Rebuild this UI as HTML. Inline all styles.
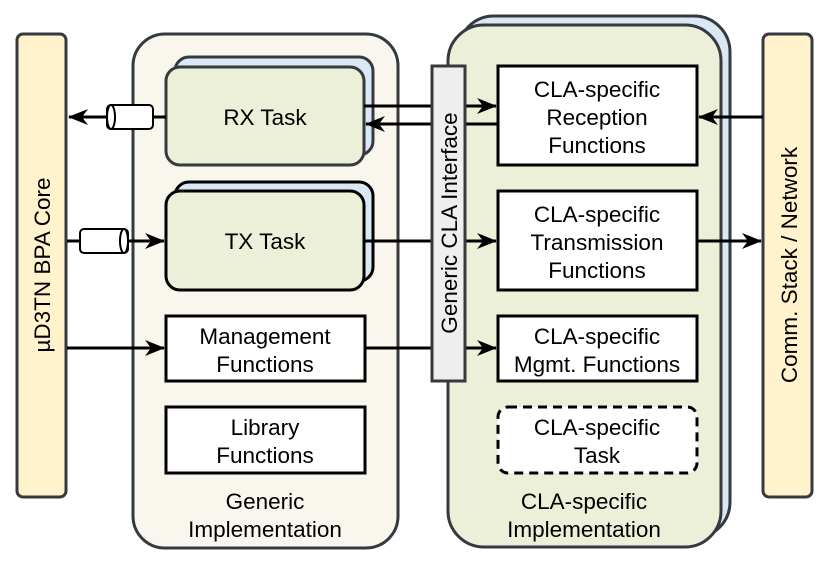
<!DOCTYPE html>
<html><head><meta charset="utf-8"><style>body{margin:0;background:#fff}svg{display:block}text{font-family:"Liberation Sans",sans-serif;font-size:22.5px;fill:#000}</style></head>
<body>
<svg width="830" height="568" viewBox="0 0 830 568" xmlns="http://www.w3.org/2000/svg">
<defs>
<marker id="b" viewBox="0 0 20 16" refX="19" refY="8" markerWidth="22" markerHeight="16" markerUnits="userSpaceOnUse" orient="auto"><path d="M0,0 L20,8 L0,16 L6,8 Z" fill="#000"/></marker></defs>
<rect x="17" y="34" width="49" height="463" rx="6" fill="#fff2cc" stroke="#36393d" stroke-width="3"/>
<text transform="translate(50,265) rotate(-90)" text-anchor="middle">µD3TN BPA Core</text>
<rect x="763" y="34" width="49" height="463" rx="6" fill="#fff2cc" stroke="#36393d" stroke-width="3"/>
<text transform="translate(797,265) rotate(-90)" text-anchor="middle">Comm. Stack / Network</text>
<rect x="133" y="34" width="265" height="514" rx="32" fill="#f9f7ed" stroke="#36393d" stroke-width="3"/>
<text x="265" y="509" text-anchor="middle">Generic</text>
<text x="265" y="537" text-anchor="middle">Implementation</text>
<rect x="458" y="16" width="272" height="522" rx="36" fill="#dae8f5" stroke="#36393d" stroke-width="3"/>
<rect x="448" y="25" width="273" height="522" rx="36" fill="#edf0d8" stroke="#36393d" stroke-width="3"/>
<text x="584" y="509" text-anchor="middle">CLA-specific</text>
<text x="584" y="537" text-anchor="middle">Implementation</text>
<rect x="175" y="57" width="198" height="98" rx="14" fill="#dae8f5" stroke="#36393d" stroke-width="3"/>
<rect x="166" y="67" width="198" height="98" rx="14" fill="#edf0d8" stroke="#36393d" stroke-width="3"/>
<text x="265" y="125" text-anchor="middle">RX Task</text>
<rect x="175" y="182" width="198" height="99" rx="14" fill="#dae8f5" stroke="#000" stroke-width="3"/>
<rect x="166" y="191" width="198" height="99" rx="14" fill="#edf0d8" stroke="#000" stroke-width="3"/>
<text x="265" y="249" text-anchor="middle">TX Task</text>
<rect x="166" y="316" width="199" height="65" fill="#fff" stroke="#000" stroke-width="3"/>
<text x="265" y="344" text-anchor="middle">Management</text>
<text x="265" y="372" text-anchor="middle">Functions</text>
<rect x="166" y="407" width="199" height="66" fill="#fff" stroke="#000" stroke-width="3"/>
<text x="265" y="435" text-anchor="middle">Library</text>
<text x="265" y="463" text-anchor="middle">Functions</text>
<rect x="498" y="66" width="199" height="99" fill="#fff" stroke="#000" stroke-width="3"/>
<text x="597" y="97" text-anchor="middle">CLA-specific</text>
<text x="597" y="125" text-anchor="middle">Reception</text>
<text x="597" y="153" text-anchor="middle">Functions</text>
<rect x="498" y="191" width="199" height="99" fill="#fff" stroke="#000" stroke-width="3"/>
<text x="597" y="222" text-anchor="middle">CLA-specific</text>
<text x="597" y="250" text-anchor="middle">Transmission</text>
<text x="597" y="278" text-anchor="middle">Functions</text>
<rect x="498" y="316" width="199" height="65" fill="#fff" stroke="#000" stroke-width="3"/>
<text x="597" y="344" text-anchor="middle">CLA-specific</text>
<text x="597" y="372" text-anchor="middle">Mgmt. Functions</text>
<rect x="498" y="407" width="199" height="66" rx="10" fill="#fff" stroke="#000" stroke-width="3" stroke-dasharray="9,6"/>
<text x="597" y="435" text-anchor="middle">CLA-specific</text>
<text x="597" y="463" text-anchor="middle">Task</text>
<line x1="364" y1="106" x2="496" y2="106" stroke="#000" stroke-width="3" marker-end="url(#b)"/>
<line x1="498" y1="124" x2="366" y2="124" stroke="#000" stroke-width="3" marker-end="url(#b)"/>
<line x1="364" y1="241" x2="496" y2="241" stroke="#000" stroke-width="3" marker-end="url(#b)"/>
<line x1="365" y1="348" x2="496" y2="348" stroke="#000" stroke-width="3" marker-end="url(#b)"/>
<rect x="432" y="66" width="33" height="315" fill="#eeeeee" stroke="#36393d" stroke-width="3"/>
<text transform="translate(457,223) rotate(-90)" text-anchor="middle">Generic CLA Interface</text>
<line x1="763" y1="117" x2="699" y2="117" stroke="#000" stroke-width="3" marker-end="url(#b)"/>
<line x1="697" y1="241" x2="761" y2="241" stroke="#000" stroke-width="3" marker-end="url(#b)"/>
<line x1="166" y1="117" x2="69" y2="117" stroke="#000" stroke-width="3" marker-end="url(#b)"/>
<rect x="107" y="105" width="46" height="24" rx="4" fill="#fff" stroke="#000" stroke-width="2"/>
<ellipse cx="111" cy="117" rx="4" ry="12" fill="#fff" stroke="#000" stroke-width="2"/>
<line x1="67" y1="241" x2="164" y2="241" stroke="#000" stroke-width="3" marker-end="url(#b)"/>
<rect x="80" y="229" width="48" height="24" rx="4" fill="#fff" stroke="#000" stroke-width="2"/>
<ellipse cx="124" cy="241" rx="4" ry="12" fill="#fff" stroke="#000" stroke-width="2"/>
<line x1="67" y1="348" x2="164" y2="348" stroke="#000" stroke-width="3" marker-end="url(#b)"/>
</svg>
</body></html>
